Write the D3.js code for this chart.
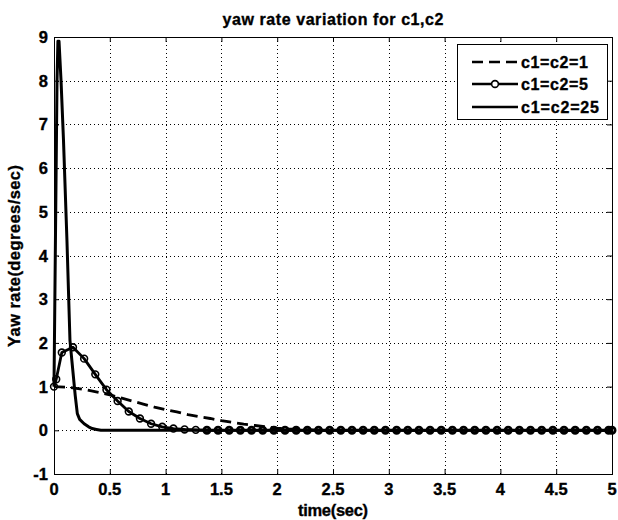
<!DOCTYPE html>
<html><head><meta charset="utf-8">
<script src="https://cdn.jsdelivr.net/npm/d3@7"></script>
<style>
html,body{margin:0;padding:0;background:#fff;}
text{font-family:"Liberation Sans",Arial,sans-serif;font-weight:bold;fill:#000;stroke:#000;stroke-width:0.35px;}
</style></head>
<body><svg id="c" width="618" height="520"></svg>
<script>
// ---- data ----
const xTicks = [0,0.5,1,1.5,2,2.5,3,3.5,4,4.5,5];
const xTickLabels = ["0","0.5","1","1.5","2","2.5","3","3.5","4","4.5","5"];
const yTicks = [-1,0,1,2,3,4,5,6,7,8,9];
const yTickLabels = ["-1","0","1","2","3","4","5","6","7","8","9"];
const seriesNames = ["c1=c2=1","c1=c2=5","c1=c2=25"];

// c1=c2=1 (dashed)
const t1 = [0,0.1,0.2,0.3,0.4,0.5,0.6,0.7,0.8,0.9,1.0,1.1,1.2,1.3,1.4,1.5,1.6,1.7,1.8,1.9,2.0,2.1,2.2,2.3,2.4,5];
const v1 = [1.0,0.99,0.96,0.92,0.87,0.81,0.74,0.67,0.60,0.53,0.47,0.42,0.36,0.31,0.27,0.22,0.18,0.14,0.11,0.08,0.05,0.03,0.02,0.01,0,0];

// c1=c2=5 (circles)
const t5 = [0,0.02,0.07,0.17,0.27,0.37,0.47,0.57,0.67,0.77,0.87,0.97,1.07,1.17,1.27,1.37,1.47,1.57,1.67,1.77,1.87,1.97,
  2.07,2.17,2.27,2.37,2.47,2.57,2.67,2.77,2.87,2.97,3.07,3.17,3.27,3.37,3.47,3.57,3.67,3.77,3.87,3.97,
  4.07,4.17,4.27,4.37,4.47,4.57,4.67,4.77,4.87,4.97,5.0];
const v5 = [1.0,1.17,1.78,1.90,1.64,1.28,0.93,0.67,0.43,0.27,0.15,0.08,0.04,0.02,0.01,0,0,0,0,0,0,0,
  0,0,0,0,0,0,0,0,0,0,0,0,0,0,0,0,0,0,0,0,
  0,0,0,0,0,0,0,0,0,0,0];

// c1=c2=25 (solid)
const t25 = [0,0.01,0.027,0.035,0.045,0.063,0.085,0.116,0.143,0.16,0.19,0.209,0.23,0.27,0.31,0.343,0.38,0.42,0.5,5];
const v25 = [1.0,3.6,8.0,8.9,8.9,8.0,6.64,4.35,2.06,1.6,0.8,0.38,0.25,0.15,0.08,0.04,0.02,0.0,0,0];

// ---- layout ----
const svg = d3.select("#c");
const L = 54, R = 612, T = 37, B = 474;
const x = d3.scaleLinear().domain([0,5]).range([L,R]);
const y = d3.scaleLinear().domain([-1,9]).range([B,T]);

// grid
const g = svg.append("g");
g.selectAll(".gx").data(xTicks.slice(1,-1)).enter().append("line")
  .attr("x1",d=>Math.round(x(d))+0.5).attr("x2",d=>Math.round(x(d))+0.5)
  .attr("y1",T).attr("y2",B)
  .attr("stroke","#000").attr("stroke-width",1).attr("stroke-dasharray","1,3");
g.selectAll(".gy").data(yTicks.slice(1,-1)).enter().append("line")
  .attr("y1",d=>Math.round(y(d))+0.5).attr("y2",d=>Math.round(y(d))+0.5)
  .attr("x1",L).attr("x2",R)
  .attr("stroke","#000").attr("stroke-width",1).attr("stroke-dasharray","1,3");

// axes (inward ticks, all four sides)
const axB = d3.axisBottom(x).tickValues(xTicks).tickSize(-5).tickFormat("");
const axT = d3.axisTop(x).tickValues(xTicks).tickSize(-5).tickFormat("");
const axL = d3.axisLeft(y).tickValues(yTicks).tickSize(-5).tickFormat("");
const axR = d3.axisRight(y).tickValues(yTicks).tickSize(-5).tickFormat("");
[[axB,`translate(0,${B})`],[axT,`translate(0,${T})`],[axL,`translate(${L},0)`],[axR,`translate(${R},0)`]]
 .forEach(([a,tr])=>{
   const s = svg.append("g").attr("transform",tr).call(a);
   s.select(".domain").remove();
   s.selectAll("line").attr("stroke","#000");
 });
svg.append("rect").attr("x",L+0.5).attr("y",T+0.5).attr("width",R-L).attr("height",B-T)
  .attr("fill","none").attr("stroke","#000").attr("stroke-width",1);

// tick labels
svg.selectAll(".xl").data(xTicks).enter().append("text")
  .attr("x",d=>x(d)).attr("y",495).attr("text-anchor","middle")
  .attr("font-size",16.5).text((d,i)=>xTickLabels[i]);
svg.selectAll(".yl").data(yTicks).enter().append("text")
  .attr("x",48).attr("y",d=>y(d)+6).attr("text-anchor","end")
  .attr("font-size",16.5).text((d,i)=>yTickLabels[i]);

// lines
const line = d3.line().x(d=>x(d[0])).y(d=>y(d[1]));
const d1 = t1.map((t,i)=>[t,v1[i]]);
const d5 = t5.map((t,i)=>[t,v5[i]]);
const d25 = t25.map((t,i)=>[t,v25[i]]);
svg.append("path").attr("d",line(d1)).attr("fill","none").attr("stroke","#000")
  .attr("stroke-width",2.8).attr("stroke-dasharray","11,6");
svg.append("path").attr("d",line(d5)).attr("fill","none").attr("stroke","#000")
  .attr("stroke-width",2.8).attr("stroke-linejoin","round");
svg.selectAll(".m5").data(d5).enter().append("circle")
  .attr("cx",d=>x(d[0])).attr("cy",d=>y(d[1])).attr("r",d=>d[1]===0?3.1:3.4)
  .attr("fill","none").attr("stroke","#000").attr("stroke-width",d=>d[1]===0?2.8:1.6);
svg.append("path").attr("d",line(d25)).attr("fill","none").attr("stroke","#000")
  .attr("stroke-width",3).attr("stroke-linejoin","round");

// title & labels
svg.append("text").attr("x",333).attr("y",25).attr("text-anchor","middle")
  .attr("font-size",16).attr("textLength",221).attr("lengthAdjust","spacing")
  .text("yaw rate variation for c1,c2");
svg.append("text").attr("x",333).attr("y",516).attr("text-anchor","middle")
  .attr("font-size",16.5).attr("textLength",70).attr("lengthAdjust","spacing")
  .text("time(sec)");
svg.append("text").attr("transform","translate(20,256) rotate(-90)").attr("text-anchor","middle")
  .attr("font-size",16.5).attr("textLength",182).attr("lengthAdjust","spacing")
  .text("Yaw rate(degrees/sec)");

// legend
const lg = svg.append("g");
lg.append("rect").attr("x",457.5).attr("y",44.5).attr("width",150).attr("height",75)
  .attr("fill","#fff").attr("stroke","#000").attr("stroke-width",1);
const rows = [62,84,107];
const lens = [67,67,78];
rows.forEach((ry,i)=>{
  const ln = lg.append("line").attr("x1",472).attr("x2",518).attr("y1",ry).attr("y2",ry)
    .attr("stroke","#000").attr("stroke-width",2.6);
  if(i===0) ln.attr("stroke-dasharray","11,6");
  if(i===1) lg.append("circle").attr("cx",495).attr("cy",ry).attr("r",3.4)
    .attr("fill","#fff").attr("stroke","#000").attr("stroke-width",1.6);
  lg.append("text").attr("x",521).attr("y",ry+6).attr("font-size",16)
    .attr("textLength",lens[i]).attr("lengthAdjust","spacing").text(seriesNames[i]);
});
</script></body></html>
